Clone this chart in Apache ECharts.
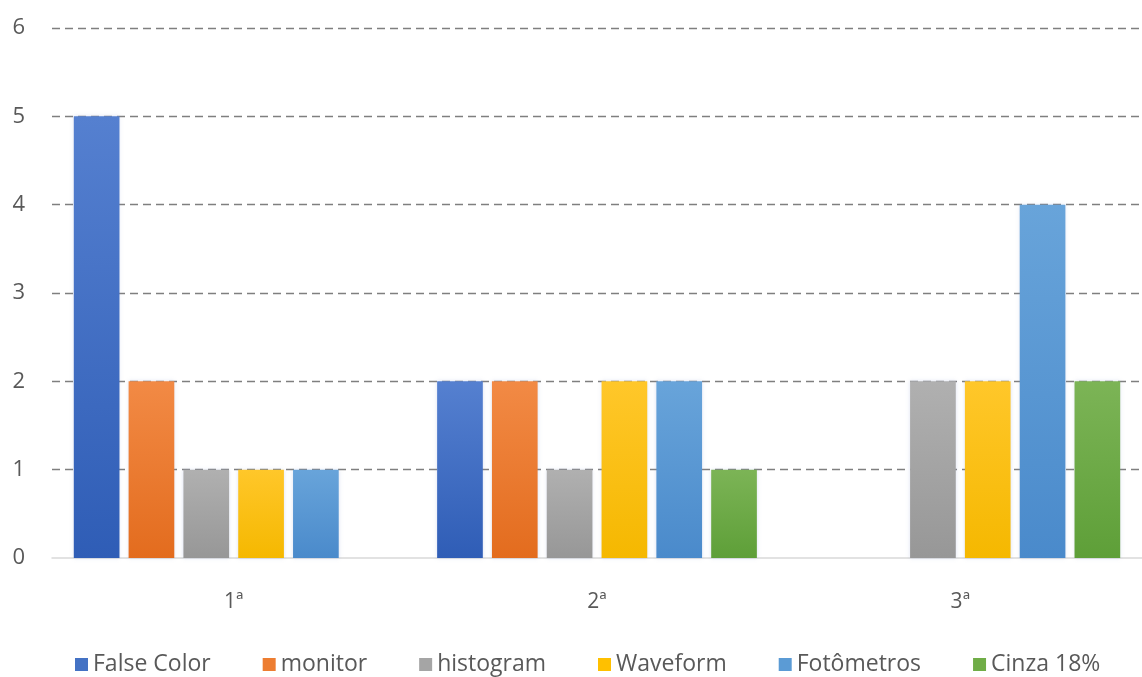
<!DOCTYPE html>
<html>
<head>
<meta charset="utf-8">
<script src="https://cdn.jsdelivr.net/npm/echarts@6/dist/echarts.min.js"></script>
<style>
html,body{margin:0;padding:0;background:#fff;}
#chart{width:1142px;height:677px;}
</style>
</head>
<body>
<div id="chart"></div>
<script>
const categories = ['1ª', '2ª', '3ª'];
const seriesNames = ['False Color', 'monitor', 'histogram', 'Waveform', 'Fotômetros', 'Cinza 18%'];
const falseColor = [5, 2, 0];
const monitor = [2, 2, 0];
const histogram = [1, 1, 2];
const waveform = [1, 2, 2];
const fotometros = [1, 2, 4];
const cinza18 = [0, 1, 2];
const yTicks = [0, 1, 2, 3, 4, 5, 6];

const values = [falseColor, monitor, histogram, waveform, fotometros, cinza18];
const colorsTop = ['#5580D0', '#F28A45', '#B0B0B0', '#FFC72A', '#68A4DA', '#7CB456'];
const colorsBottom = ['#2F5DB6', '#E36C1E', '#979797', '#F5B800', '#4A8ACB', '#5E9F38'];
const legendColors = ['#4472C4', '#ED7D31', '#A5A5A5', '#FFC000', '#5B9BD5', '#70AD47'];

const chart = echarts.init(document.getElementById('chart'), null, {renderer: 'canvas'});
const series = seriesNames.map((name, i) => ({
  name: name,
  type: 'bar',
  data: values[i],
  barGap: '20%',
  barCategoryGap: '12%',
  itemStyle: {
    color: new echarts.graphic.LinearGradient(0, 0, 0, 1, [
      {offset: 0, color: colorsTop[i]},
      {offset: 1, color: colorsBottom[i]}
    ]),
    shadowBlur: 4,
    shadowColor: 'rgba(120,140,200,0.25)'
  },
  emphasis: {disabled: true}
}));

chart.setOption({
  animation: false,
  color: legendColors,
  grid: {left: 52, top: 28, width: 1099, bottom: 119, containLabel: false},
  legend: {
    data: seriesNames.map((n, i) => ({name: n, itemStyle: {color: legendColors[i]}})),
    top: 648,
    left: 70,
    icon: 'rect',
    itemWidth: 13,
    itemHeight: 13,
    itemGap: 52,
    textStyle: {fontFamily: 'Open Sans', fontSize: 23, color: '#595959'}
  },
  xAxis: {
    type: 'category',
    data: categories,
    axisLine: {show: true, lineStyle: {color: '#D9D9D9', width: 1.5}},
    axisTick: {show: false},
    axisLabel: {margin: 34, fontFamily: 'Open Sans', fontSize: 21, color: '#595959'}
  },
  yAxis: {
    type: 'value',
    min: yTicks[0],
    max: yTicks[yTicks.length - 1],
    interval: 1,
    axisLine: {show: false},
    axisTick: {show: false},
    axisLabel: {margin: 27, fontFamily: 'Open Sans', fontSize: 22, color: '#595959'},
    splitLine: {show: true, showMinLine: false, lineStyle: {color: '#7F7F7F', type: [8, 5], width: 1.4}}
  },
  series: series
});
</script>
</body>
</html>
